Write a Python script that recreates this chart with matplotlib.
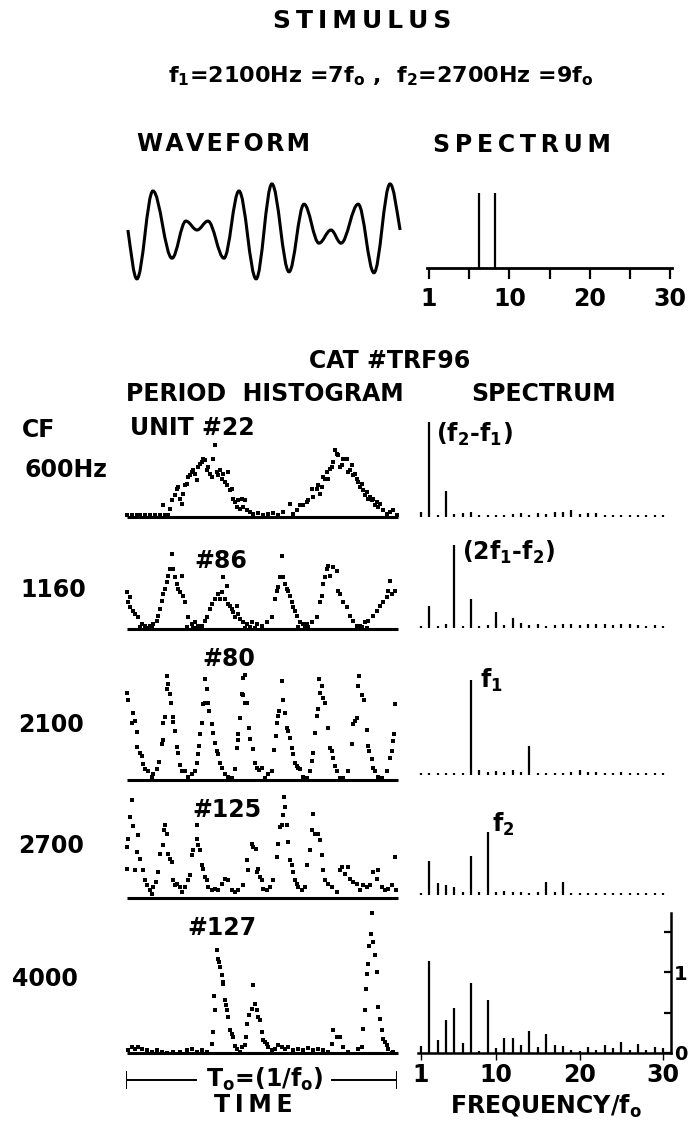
import numpy as np
import matplotlib
matplotlib.use('Agg')
import matplotlib.pyplot as plt
from matplotlib.path import Path
from matplotlib.patches import PathPatch

plt.rcParams['font.family'] = ['DejaVu Sans']
plt.rcParams['font.weight'] = 'bold'
plt.rcParams['mathtext.fontset'] = 'dejavusans'
plt.rcParams['mathtext.default'] = 'regular'

# ---- data ----
# stimulus waveform, extrema of the trace (time in % of period, relative amplitude)
wave_t = [0, 3.3, 9.2, 16.2, 21.3, 25.4, 29.4, 35.3, 40.8, 47.1, 52.9,
          59.2, 64.7, 70.2, 74.6, 78.3, 84.6, 90.4, 96.3, 100]
wave_a = [0, -1.04, 0.83, -0.6, 0.19, 0, 0.19, -0.6, 0.83, -1.04, 0.98,
          -0.89, 0.55, -0.28, 0, -0.28, 0.55, -0.91, 0.98, 0]

stim_harm = [7, 9]
stim_amp = [1.0, 1.0]

harmonics = list(range(1, 31))

cf_labels = ['600Hz', '1160', '2100', '2700', '4000']
unit_labels = ['UNIT #22', '#86', '#80', '#125', '#127']

# period histograms: time (% of period) and count
hist1_t = [0.6, 2.4, 4.2, 5.5, 7.3, 9.1, 10.9, 12.7, 14.5, 15.8,
           13.9, 16.4, 17.0, 18.2, 18.8, 19.4, 20.0, 20.6, 21.0, 21.8,
           22.4, 23.0, 23.6, 24.2, 24.8, 25.5, 26.1, 26.7, 27.3, 27.9,
           28.5, 29.1, 29.7, 30.3, 30.9, 31.5, 32.1, 32.7, 33.3, 33.9,
           34.5, 35.2, 35.8, 36.4, 37.0, 37.6, 38.2, 38.8, 39.4, 40.0,
           40.6, 41.2, 41.8, 42.4, 43.0, 43.6, 44.2, 45.5, 46.7, 48.5,
           50.3, 52.1, 53.9, 55.8, 57.6, 60.0, 61.2, 62.4, 63.6, 64.8,
           66.1, 66.7, 67.9, 68.5, 69.7, 70.3, 70.9, 71.5, 72.1, 72.7,
           73.3, 73.9, 74.5, 75.2, 75.8, 76.4, 77.0, 77.6, 78.2, 78.8,
           79.4, 80.6, 81.2, 81.8, 82.4, 83.0, 83.6, 84.2, 84.8, 85.5,
           86.1, 86.7, 87.3, 87.9, 88.5, 89.1, 89.7, 90.3, 90.9, 91.5,
           92.1, 92.7, 93.9, 95.2, 96.4, 97.6, 98.8]
hist1_n = [2, 2, 2, 2, 2, 2, 2, 2, 2, 2,
           12, 8, 17, 22, 28, 30, 18, 13, 23, 32,
           33, 40, 42, 45, 47, 43, 37, 50, 53, 55,
           58, 57, 47, 50, 43, 40, 58, 72, 45, 42,
           47, 38, 43, 35, 32, 45, 27, 28, 18, 15,
           10, 17, 8, 18, 10, 17, 7, 5, 3, 4,
           2, 3, 4, 2, 5, 13, 3, 7, 12, 12,
           15, 17, 28, 20, 28, 32, 23, 30, 40, 38,
           45, 38, 48, 50, 55, 67, 63, 62, 50, 52,
           58, 58, 45, 47, 52, 42, 43, 38, 35, 30,
           33, 27, 22, 25, 18, 20, 17, 18, 12, 15,
           10, 13, 7, 3, 5, 7, 2]

hist2_t = [0.6, 1.8, 1.2, 1.8, 3.0, 3.6, 4.8, 6.1, 7.3, 9.1,
           10.3, 11.5, 12.1, 12.7, 13.3, 13.9, 14.5, 15.2, 15.8, 16.4,
           17.0, 17.6, 18.2, 18.8, 19.4, 20.0, 20.6, 21.2, 21.8, 23.0,
           24.2, 25.5, 26.7, 27.9, 29.1, 29.7, 30.9, 31.5, 32.7, 33.9,
           34.5, 35.2, 35.8, 36.4, 37.0, 37.6, 38.2, 38.8, 39.4, 40.0,
           40.6, 41.2, 41.8, 43.0, 44.2, 46.1, 47.9, 49.7, 51.5, 53.3,
           54.5, 55.2, 55.8, 56.4, 57.0, 57.6, 58.2, 58.8, 59.4, 60.0,
           60.6, 61.2, 61.8, 62.4, 63.6, 64.8, 66.1, 67.9, 69.7, 70.9,
           71.5, 72.1, 72.7, 73.3, 73.9, 74.5, 75.8, 77.0, 77.6, 78.2,
           79.4, 80.6, 81.8, 83.0, 84.2, 85.5, 87.3, 88.5, 90.3, 91.5,
           92.7, 93.9, 95.2, 95.8, 96.4, 97.0, 98.2,
           5.5, 8.0, 9.7, 22.4, 24.8, 26.1, 43.6, 45.5, 47.3, 63.0,
           65.5, 66.7, 84.8, 86.1, 87.9]
hist2_n = [37, 32, 27, 22, 18, 15, 12, 5, 3, 3,
           5, 8, 13, 20, 28, 35, 40, 47, 53, 60,
           75, 60, 52, 45, 40, 37, 53, 33, 27, 12,
           5, 7, 3, 3, 8, 12, 20, 25, 30, 35,
           30, 37, 52, 30, 43, 25, 23, 20, 17, 12,
           23, 15, 10, 7, 5, 7, 5, 3, 7, 12,
           30, 38, 42, 52, 73, 52, 45, 40, 38, 33,
           27, 22, 18, 13, 7, 5, 5, 7, 12, 27,
           33, 45, 52, 60, 63, 53, 62, 58, 38, 35,
           27, 22, 13, 8, 3, 3, 7, 8, 13, 18,
           23, 27, 32, 38, 48, 35, 38,
           2, 1, 1, 2, 1, 1, 1, 2, 1, 2,
           1, 2, 1, 2, 1]

hist3_t = [0.6, 1.2, 3.0, 2.4, 3.6, 4.2, 4.5, 5.5, 6.1, 6.4,
           7.3, 8.5, 9.7, 10.3, 11.5, 12.5, 13.3, 13.7, 13.9, 14.5,
           15.2, 15.8, 15.2, 16.4, 16.6, 17.3, 17.6, 18.2, 18.8, 19.4,
           20.0, 20.6, 21.8, 23.0, 24.2, 25.5, 26.1, 26.7, 27.0, 27.3,
           27.9, 28.5, 29.1, 29.7, 29.1, 30.3, 30.7, 31.5, 31.9, 32.7,
           33.3, 33.9, 34.5, 35.2, 36.4, 37.6, 38.8, 40.0, 40.6, 41.2,
           41.2, 41.8, 42.4, 43.0, 43.6, 43.0, 43.6, 44.2, 45.2, 45.6,
           46.7, 47.3, 47.9, 48.9, 49.7, 50.9, 52.1, 53.3, 54.2, 54.9,
           55.2, 55.8, 56.1, 57.0, 57.6, 58.2, 58.8, 59.4, 60.0, 60.6,
           61.2, 61.8, 62.4, 63.0, 63.6, 64.8, 66.1, 67.3, 67.9, 68.5,
           69.1, 69.7, 70.3, 70.7, 71.5, 70.9, 72.1, 72.7, 73.9, 74.5,
           75.2, 75.8, 76.4, 77.0, 78.2, 79.4, 81.2, 82.4, 83.0, 83.6,
           84.2, 84.8, 85.2, 86.1, 86.9, 87.9, 88.5, 88.9, 89.7, 90.3,
           90.9, 92.1, 93.3, 95.2, 96.4, 97.0, 97.4, 97.8, 98.2]
hist3_n = [87, 80, 67, 57, 59, 48, 33, 27, 24, 16,
           11, 9, 3, 6, 11, 18, 36, 40, 57, 63,
           91, 96, 104, 86, 77, 63, 58, 49, 33, 27,
           15, 9, 9, 3, 6, 9, 17, 26, 34, 46,
           57, 76, 77, 91, 101, 77, 69, 56, 47, 37,
           29, 26, 17, 12, 6, 3, 2, 11, 32, 46,
           40, 62, 86, 85, 77, 102, 105, 77, 52, 41,
           31, 17, 12, 10, 12, 2, 6, 9, 30, 44,
           57, 64, 69, 99, 80, 67, 52, 49, 42, 32,
           26, 17, 14, 12, 11, 3, 2, 9, 19, 27,
           47, 64, 71, 101, 94, 87, 82, 77, 52, 32,
           29, 22, 14, 9, 2, 2, 9, 36, 56, 59,
           62, 94, 104, 85, 80, 50, 34, 29, 21, 12,
           9, 3, 2, 9, 22, 29, 39, 46, 76]

hist4_t = [2.4, 1.8, 3.0, 1.2, 4.8, 4.2, 0.8, 5.5, 0.6, 3.6,
           6.4, 7.3, 7.9, 9.1, 9.7, 10.3, 11.3, 12.1, 12.7, 13.7,
           14.2, 14.5, 15.2, 15.8, 16.4, 17.0, 17.6, 18.2, 18.8, 20.0,
           20.6, 21.8, 23.0, 23.6, 24.2, 24.8, 26.1, 26.3, 26.7, 27.3,
           27.9, 28.5, 29.1, 29.7, 30.3, 31.5, 32.7, 33.9, 35.2, 36.4,
           37.6, 38.8, 40.0, 41.2, 43.0, 44.2, 44.8, 46.1, 46.7, 47.6,
           47.9, 48.5, 49.1, 49.7, 50.3, 51.5, 52.7, 53.9, 55.2, 55.8,
           56.4, 57.0, 57.6, 58.2, 57.8, 58.8, 59.4, 60.0, 60.6, 61.2,
           61.8, 62.4, 63.0, 64.2, 65.5, 66.3, 67.3, 67.9, 68.5, 69.1,
           70.3, 70.9, 71.5, 72.1, 72.7, 73.9, 75.2, 77.0, 78.2, 78.8,
           80.0, 81.2, 81.8, 83.0, 84.2, 85.5, 86.7, 87.9, 89.1, 90.3,
           91.5, 92.1, 93.3, 94.5, 95.8, 97.0, 98.2, 98.5]
hist4_n = [98, 81, 72, 59, 63, 46, 51, 39, 29, 28,
           28, 18, 13, 8, 4, 11, 16, 26, 44, 53,
           68, 73, 64, 44, 39, 36, 18, 13, 14, 11,
           6, 11, 18, 23, 43, 48, 73, 59, 53, 48,
           33, 29, 21, 18, 11, 8, 9, 8, 14, 19,
           18, 8, 6, 8, 13, 38, 28, 54, 51, 49,
           26, 29, 21, 18, 9, 8, 11, 18, 41, 54,
           71, 73, 83, 91, 101, 73, 56, 38, 33, 26,
           18, 14, 11, 8, 11, 33, 48, 68, 84, 64,
           64, 58, 43, 28, 18, 14, 11, 6, 28, 31,
           24, 31, 19, 16, 14, 8, 13, 11, 13, 26,
           19, 28, 11, 8, 9, 13, 41, 8]

hist5_t = [1.2, 2.4, 3.6, 4.8, 6.1, 7.9, 9.7, 11.5, 13.3, 15.2,
           17.6, 20.0, 22.4, 24.2, 26.1, 27.9, 29.7,
           31.5, 31.9, 32.7, 32.4, 33.3, 33.9, 34.3, 34.5, 35.2, 35.5,
           35.8, 36.4, 36.8, 37.2, 37.6, 38.2, 38.8, 39.4, 40.0, 40.6,
           41.8, 42.4, 43.6, 44.0, 44.5, 45.2, 46.1, 46.7, 47.3, 47.9,
           48.5, 49.1, 49.7, 50.3, 50.9, 51.5, 52.1, 53.3, 54.5, 55.8,
           57.0, 58.2, 59.4, 61.2, 63.0, 64.8, 66.7, 68.5, 70.3, 72.1,
           73.9, 75.2, 75.8, 77.0, 78.2, 79.4, 81.2, 84.8, 86.1, 86.7,
           87.3, 87.6, 88.1, 88.5, 88.8, 89.3, 89.7, 90.3, 90.9, 91.5,
           92.1, 92.7, 93.3, 93.9, 94.5, 95.2, 95.8, 97.0, 97.6]
hist5_n = [3, 6, 4, 6, 4, 3, 1, 3, 1, 0,
           1, 1, 3, 4, 1, 3, 1,
           9, 21, 43, 57, 103, 94, 91, 86, 78, 71,
           69, 53, 48, 43, 36, 23, 19, 16, 7, 4,
           1, 6, 8, 16, 29, 38, 44, 68, 49, 43,
           36, 33, 21, 13, 11, 9, 6, 3, 4, 8,
           6, 4, 6, 3, 4, 3, 5, 3, 4, 3,
           1, 9, 23, 16, 16, 6, 1, 4, 6, 24,
           43, 64, 79, 89, 107, 119, 140, 111, 98, 81,
           46, 34, 23, 14, 11, 8, 4, 0, 1]

# response spectra, amplitude of harmonics 1..30 of f0
spec1 = [0.06, 1.17, 0.03, 0.32, 0.04, 0.05, 0.06, 0.03, 0.03, 0.03,
         0.03, 0.04, 0.05, 0.03, 0.05, 0.04, 0.06, 0.06, 0.09, 0.04,
         0.05, 0.05, 0.03, 0.03, 0.03, 0.03, 0.03, 0.03, 0.03, 0.03]
spec2 = [0.03, 0.27, 0.03, 0.05, 1.02, 0.03, 0.36, 0.03, 0.04, 0.20,
         0.04, 0.12, 0.06, 0.04, 0.05, 0.03, 0.04, 0.05, 0.05, 0.04,
         0.05, 0.05, 0.05, 0.04, 0.05, 0.05, 0.04, 0.03, 0.04, 0.03]
spec3 = [0.03, 0.03, 0.03, 0.03, 0.03, 0.03, 1.17, 0.06, 0.04, 0.05,
         0.04, 0.06, 0.04, 0.36, 0.03, 0.03, 0.03, 0.03, 0.04, 0.06,
         0.04, 0.04, 0.03, 0.03, 0.04, 0.03, 0.03, 0.03, 0.03, 0.03]
spec4 = [0.03, 0.42, 0.15, 0.12, 0.10, 0.04, 0.48, 0.04, 0.78, 0.04,
         0.05, 0.04, 0.04, 0.03, 0.04, 0.16, 0.04, 0.16, 0.03, 0.03,
         0.03, 0.03, 0.03, 0.03, 0.03, 0.03, 0.03, 0.03, 0.03, 0.03]
spec5 = [0.09, 1.14, 0.16, 0.41, 0.56, 0.12, 0.86, 0.03, 0.65, 0.06,
         0.18, 0.18, 0.10, 0.27, 0.08, 0.23, 0.10, 0.09, 0.04, 0.02,
         0.07, 0.04, 0.10, 0.06, 0.13, 0.04, 0.11, 0.04, 0.08, 0.06]

hists = [(hist1_t, hist1_n), (hist2_t, hist2_n), (hist3_t, hist3_n),
         (hist4_t, hist4_n), (hist5_t, hist5_n)]
specs = [spec1, spec2, spec3, spec4, spec5]
peak_labels = ['(f$_2$-f$_1$)', '(2f$_1$-f$_2$)', 'f$_1$', 'f$_2$', None]

# ---- layout (pixels of the 689x1124 image) ----
W, H = 689, 1124
fig = plt.figure(figsize=(W / 100, H / 100), dpi=100)
FS = 17


def box(x0, x1, ytop, ybot):
    return fig.add_axes([x0 / W, 1 - ybot / H, (x1 - x0) / W, (ybot - ytop) / H])


def put(x, y, s, size=FS, ha='center', va='center', **kw):
    fig.text(x / W, 1 - y / H, s, fontsize=size, ha=ha, va=va, **kw)


def spaced(s, gap='\u2009'):
    return gap.join(s)


# header
put(362, 21, spaced('STIMULUS'), size=18)
put(381, 76, 'f$_1$=2100Hz =7f$_o$ ,  f$_2$=2700Hz =9f$_o$', size=16)
put(223, 144, spaced('WAVEFORM', '\u200a'))
put(522, 145, spaced('SPECTRUM'))

# stimulus waveform drawn as a smooth curve through its extrema
ax = box(126, 402, 180, 285)
ax.set_xlim(-0.7, 100.7)
ax.set_ylim((230 - 285) / 47, (230 - 180) / 47)
verts = [(wave_t[0], wave_a[0])]
codes = [Path.MOVETO]
n = len(wave_t)
for i in range(1, n):
    x0, y0 = wave_t[i - 1], wave_a[i - 1]
    x1, y1 = wave_t[i], wave_a[i]
    dx = x1 - x0
    c1y = y0 if i > 1 else y0 + (y1 - y0) * 0.45
    c2y = y1 if i < n - 1 else y1 + (y0 - y1) * 0.45
    verts += [(x0 + 0.36 * dx, c1y), (x1 - 0.36 * dx, c2y), (x1, y1)]
    codes += [Path.CURVE4] * 3
ax.add_patch(PathPatch(Path(verts, codes), fill=False, lw=2.2, color='black'))
ax.axis('off')

# stimulus spectrum
ax = box(427, 672, 180, 268)
px = 241 / 29
ax.set_xlim(1 - 2 / px, 30 + 2 / px)
ax.set_ylim(0, 88 / 75)
ax.vlines(stim_harm, 0, stim_amp, color='black', lw=1.6)
for s in ['top', 'right', 'left']:
    ax.spines[s].set_visible(False)
ax.spines['bottom'].set_linewidth(2)
ax.set_yticks([])
ax.set_xticks([1, 5.83, 10.67, 15.5, 20.33, 25.17, 30])
ax.set_xticklabels(['1', '', '10', '', '20', '', '30'])
ax.tick_params(axis='x', direction='out', length=8, width=1.6, labelsize=FS, pad=6)

# section titles
put(390, 361, 'CAT #TRF96')
put(265, 394, 'PERIOD  HISTOGRAM')
put(544, 394, 'SPECTRUM')
put(22, 430, 'CF', ha='left')

hist_base = [517, 629, 780, 898, 1053]
hist_top = [75, 80, 115, 105, 145]
spec_base = [517, 628, 775, 895, 1053]
cf_pos = [(24, 470), (20, 590), (18, 725), (18, 846), (12, 979)]
unit_pos = [(130, 428, 'left'), (221, 561, 'center'), (229, 659, 'center'),
            (227, 810, 'center'), (222, 928, 'center')]
peak_pos = [(436, 421), (462, 539), (480, 667), (492, 811), None]

for i in range(5):
    b = hist_base[i]
    # period histogram
    ax = box(125, 400, b - hist_top[i], b + 4)
    ax.set_xlim(0, 100)
    ax.set_ylim(-4, hist_top[i])
    t, cnt = hists[i]
    ax.scatter(t, cnt, s=6, color='black', marker='s', lw=0, clip_on=False)
    ax.plot([0.7, 99.3], [0, 0], color='black', lw=2.2, solid_capstyle='butt')
    ax.axis('off')

    put(cf_pos[i][0], cf_pos[i][1], cf_labels[i], ha='left')
    put(unit_pos[i][0], unit_pos[i][1], unit_labels[i], ha=unit_pos[i][2])

    # spectrum of the response
    sb = spec_base[i]
    spx = 242.4 / 29
    if i < 4:
        ax = box(418, 672, sb - 150, sb)
        ax.set_xlim(1 - 3 / spx, 30 + 9 / spx)
        ax.set_ylim(0, 150 / 81)
        ax.vlines(harmonics, 0, specs[i], color='black', lw=1.6)
        ax.axis('off')
        put(peak_pos[i][0], peak_pos[i][1], peak_labels[i], ha='left', va='top')
    else:
        ax = box(418, 671, sb - 140, sb)
        ax.set_xlim(1 - 3 / spx, 30 + 8 / spx)
        ax.set_ylim(0, 140 / 81)
        ax.vlines(harmonics, 0, specs[i], color='black', lw=1.6)
        ax.spines['top'].set_visible(False)
        ax.spines['left'].set_visible(False)
        ax.spines['bottom'].set_linewidth(1.8)
        ax.spines['right'].set_linewidth(1.8)
        ax.set_xticks([1, 10, 20, 30])
        ax.tick_params(axis='x', direction='out', length=5, width=1,
                       labelsize=FS, pad=2)
        ax.yaxis.tick_right()
        ax.set_yticks([0, 0.5, 1, 1.5])
        ax.set_yticklabels(['0', '', '1', ''])
        ax.tick_params(axis='y', direction='in', length=5, width=1.6,
                       labelsize=14, pad=2)

# time bracket under the histograms
ax = box(126, 397, 1070, 1090)
ax.set_xlim(0, 100)
ax.set_ylim(-1, 1)
ax.plot([0, 26], [0, 0], color='black', lw=1.4)
ax.plot([76, 100], [0, 0], color='black', lw=1.4)
ax.plot([0, 0], [-0.8, 0.8], color='black', lw=1.4)
ax.plot([100, 100], [-0.8, 0.8], color='black', lw=1.4)
ax.axis('off')
put(265, 1079, 'T$_o$=(1/f$_o$)')
put(253, 1105, spaced('TIME'))
put(546, 1106, 'FREQUENCY/f$_o$')

fig.savefig('out.png', dpi=100)
